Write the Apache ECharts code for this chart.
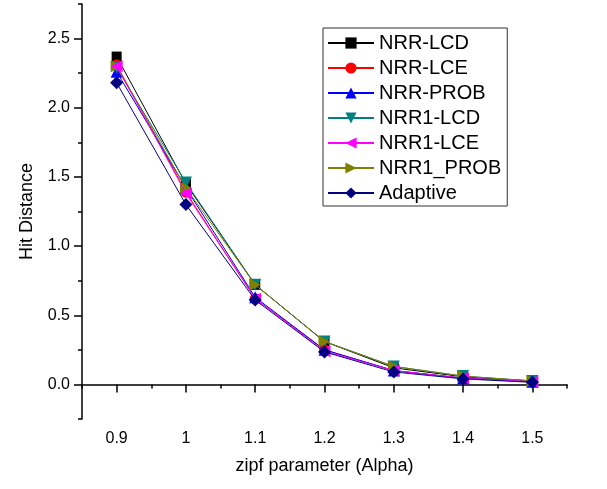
<!DOCTYPE html>
<html>
<head>
<meta charset="utf-8">
<script src="https://cdn.jsdelivr.net/npm/echarts@6/dist/echarts.min.js"></script>
<style>html,body{margin:0;padding:0;background:#fff}#c{width:607px;height:489px}</style>
</head>
<body>
<div id="c"></div>
<script>
const alpha = [0.9, 1.0, 1.1, 1.2, 1.3, 1.4, 1.5];
const nrrLCD   = [2.37, 1.45, 0.72, 0.31, 0.12, 0.055, 0.025];
const nrrLCE   = [2.31, 1.39, 0.62, 0.25, 0.10, 0.045, 0.020];
const nrrPROB  = [2.26, 1.42, 0.63, 0.25, 0.10, 0.045, 0.020];
const nrr1LCD  = [2.29, 1.46, 0.72, 0.31, 0.13, 0.060, 0.025];
const nrr1LCE  = [2.30, 1.38, 0.62, 0.24, 0.10, 0.045, 0.020];
const nrr1PROB = [2.30, 1.42, 0.72, 0.31, 0.13, 0.060, 0.025];
const adaptive = [2.18, 1.30, 0.61, 0.235, 0.09, 0.040, 0.015];

const xMajor = [0.9, 1.0, 1.1, 1.2, 1.3, 1.4, 1.5];
const xMinor = [0.85, 0.95, 1.05, 1.15, 1.25, 1.35, 1.45, 1.55];
const yMajor = [0, 0.5, 1.0, 1.5, 2.0, 2.5];
const yMinor = [-0.25, 0.25, 0.75, 1.25, 1.75, 2.25, 2.75];

const names = ['NRR-LCD','NRR-LCE','NRR-PROB','NRR1-LCD','NRR1-LCE','NRR1_PROB','Adaptive'];
const values = [nrrLCD, nrrLCE, nrrPROB, nrr1LCD, nrr1LCE, nrr1PROB, adaptive];
const colors = ['#000000','#FF0000','#0000FF','#008080','#FF00FF','#808000','#000080'];
const symbols = ['rect','circle','triangle','triangle','triangle','triangle','diamond'];
const rotations = [0, 0, 0, 180, 90, -90, 0];
const sizes = [10, 11, 12, 12, 12, 12, 13];
const zs = [2, 3, 4, 5, 7, 6, 8];

const FONT = 'Liberation Sans, Arial, sans-serif';
const chart = echarts.init(document.getElementById('c'));
const axisLine = {show: true, lineStyle: {color: '#000', width: 1.5}};

chart.setOption({
  animation: false,
  backgroundColor: '#fff',
  grid: {left: 82, top: 4, right: 40, bottom: 70, containLabel: false},
  legend: {
    orient: 'vertical', left: 323, top: 28,
    data: names,
    itemWidth: 46, itemHeight: 14, itemGap: 5, itemTextGap: 6,
    padding: [5, 6, 3, 4],
    borderColor: '#333', borderWidth: 1,
    textStyle: {fontFamily: FONT, fontSize: 20, color: '#000', lineHeight: 20}
  },
  xAxis: [{
    type: 'value', min: 0.85, max: 1.55, position: 'bottom',
    axisLine: axisLine,
    axisTick: {show: true, inside: false, length: 8, customValues: xMajor, lineStyle: {color: '#000', width: 1.5}},
    axisLabel: {customValues: xMajor, fontFamily: FONT, fontSize: 16, color: '#000', margin: 12,
      formatter: v => String(Math.round(v * 10) / 10)},
    splitLine: {show: false},
    name: 'zipf parameter (Alpha)', nameLocation: 'middle', nameGap: 38,
    nameTextStyle: {fontFamily: FONT, fontSize: 18, color: '#000'}
  }, {
    type: 'value', min: 0.85, max: 1.55, position: 'bottom', offset: 0,
    axisLine: {show: false},
    axisTick: {show: true, inside: false, length: 4, customValues: xMinor, lineStyle: {color: '#000', width: 1.5}},
    axisLabel: {show: false},
    splitLine: {show: false}
  }],
  yAxis: [{
    type: 'value', min: -0.25, max: 2.75, position: 'left',
    axisLine: axisLine,
    axisTick: {show: true, inside: false, length: 8, customValues: yMajor, lineStyle: {color: '#000', width: 1.5}},
    axisLabel: {customValues: yMajor, fontFamily: FONT, fontSize: 16, color: '#000', margin: 12,
      formatter: v => v.toFixed(1)},
    splitLine: {show: false},
    name: 'Hit Distance', nameLocation: 'middle', nameRotate: 90, nameGap: 46,
    nameTextStyle: {fontFamily: FONT, fontSize: 18, color: '#000'}
  }, {
    type: 'value', min: -0.25, max: 2.75, position: 'left', offset: 0,
    axisLine: {show: false},
    axisTick: {show: true, inside: false, length: 4, customValues: yMinor, lineStyle: {color: '#000', width: 1.5}},
    axisLabel: {show: false},
    splitLine: {show: false}
  }],
  series: names.map((n, i) => ({
    name: n, type: 'line', xAxisIndex: 0, yAxisIndex: 0,
    data: alpha.map((a, j) => [a, values[i][j]]),
    symbol: symbols[i], symbolSize: sizes[i], symbolRotate: rotations[i],
    showAllSymbol: true,
    lineStyle: {color: colors[i], width: 1},
    itemStyle: {color: colors[i]},
    z: zs[i]
  }))
});
</script>
</body>
</html>
